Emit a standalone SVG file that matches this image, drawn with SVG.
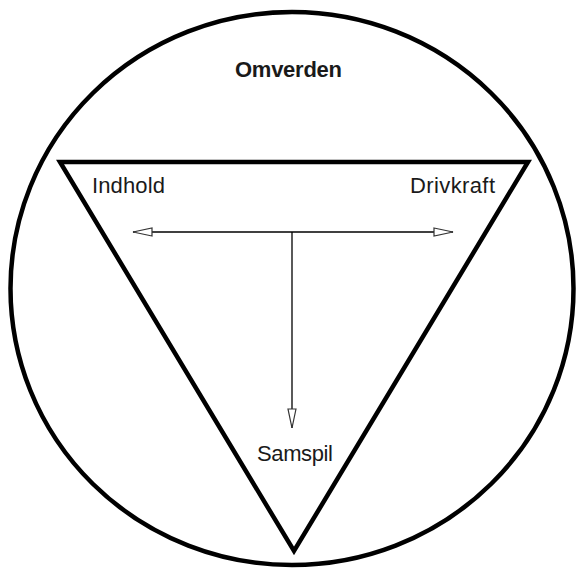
<svg xmlns="http://www.w3.org/2000/svg" width="581" height="570" viewBox="0 0 581 570">
<style>
.shape{fill:none;stroke:#000;stroke-width:4.5}
.lbl{font-family:"Liberation Sans",Arial,sans-serif;font-size:22px;fill:#1a1a1a}
.conn{fill:none;stroke:#000;stroke-width:1.3}
</style>
<defs>
<marker id="ah" markerWidth="22" markerHeight="12" refX="20" refY="6" orient="auto" markerUnits="userSpaceOnUse">
<path d="M1,2 L20,6 L1,10 Z" fill="#fff" stroke="#333" stroke-width="1.2"/>
</marker>
</defs>
<rect width="581" height="570" fill="#fff"/>
<g id="omverden">
<ellipse class="shape" cx="292" cy="288.5" rx="281.5" ry="276.5"/>
<text class="lbl" x="235" y="77" font-weight="bold" font-size="21" textLength="107">Omverden</text>
</g>
<g id="triangle">
<polygon class="shape" points="60,162 528,162 294,551" stroke-width="5" stroke-linejoin="miter"/>
</g>
<g id="indhold"><text class="lbl" x="92" y="193" textLength="73">Indhold</text></g>
<g id="drivkraft"><text class="lbl" x="410" y="193" textLength="85">Drivkraft</text></g>
<g id="samspil"><text class="lbl" x="257" y="461" textLength="76">Samspil</text></g>
<g id="connectors">
<line class="conn" x1="292" y1="232" x2="133" y2="232" marker-end="url(#ah)"/>
<line class="conn" x1="292" y1="232" x2="453" y2="232" marker-end="url(#ah)"/>
<line class="conn" x1="292" y1="232" x2="292" y2="428" marker-end="url(#ah)"/>
</g>
</svg>
